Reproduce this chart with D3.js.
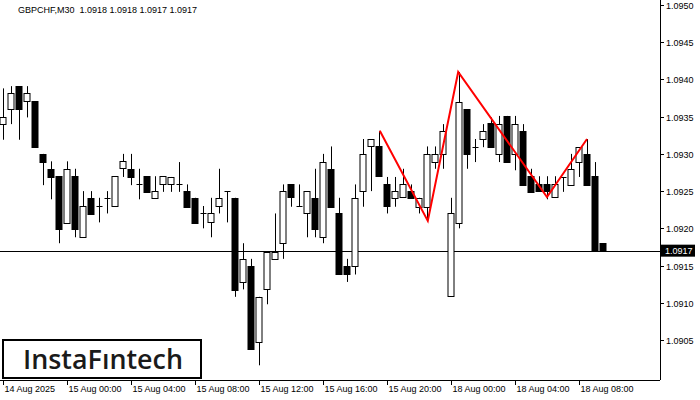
<!DOCTYPE html><html><head><meta charset="utf-8"><script src="https://cdn.jsdelivr.net/npm/d3@7"></script>
<style>body{margin:0;background:#fff}</style></head><body><svg id="c" width="700" height="400"></svg><script>
const opens=[1.09340,1.09360,1.09391,1.09371,1.09371,1.09300,1.09280,1.09270,1.09208,1.09270,1.09188,1.09241,1.09230,1.09241,1.09230,1.09280,1.09280,1.09259,1.09270,1.09241,1.09259,1.09259,1.09259,1.09250,1.09241,1.09220,1.09208,1.09230,1.09250,1.09241,1.09128,1.09149,1.09047,1.09118,1.09159,1.09180,1.09259,1.09230,1.09220,1.09241,1.09188,1.09280,1.09220,1.09149,1.09149,1.09250,1.09310,1.09310,1.09259,1.09241,1.09241,1.09250,1.09229,1.09229,1.09289,1.09300,1.09108,1.09208,1.09360,1.09309,1.09320,1.09341,1.09300,1.09351,1.09300,1.09331,1.09270,1.09259,1.09259,1.09241,1.09269,1.09259,1.09289,1.09300,1.09270,1.09180];
const highs=[1.09388,1.09391,1.09391,1.09391,1.09371,1.09300,1.09290,1.09270,1.09290,1.09280,1.09250,1.09250,1.09241,1.09250,1.09270,1.09300,1.09300,1.09280,1.09270,1.09270,1.09270,1.09269,1.09289,1.09259,1.09241,1.09230,1.09241,1.09280,1.09250,1.09241,1.09180,1.09159,1.09108,1.09168,1.09220,1.09259,1.09259,1.09259,1.09250,1.09280,1.09300,1.09310,1.09241,1.09159,1.09259,1.09320,1.09320,1.09331,1.09269,1.09269,1.09280,1.09259,1.09241,1.09310,1.09310,1.09340,1.09241,1.09410,1.09360,1.09320,1.09340,1.09349,1.09351,1.09351,1.09351,1.09340,1.09280,1.09270,1.09270,1.09270,1.09269,1.09300,1.09309,1.09320,1.09289,1.09180];
const lows=[1.09319,1.09340,1.09319,1.09349,1.09309,1.09258,1.09239,1.09180,1.09208,1.09188,1.09188,1.09220,1.09208,1.09220,1.09230,1.09269,1.09258,1.09239,1.09249,1.09241,1.09249,1.09249,1.09249,1.09229,1.09208,1.09200,1.09188,1.09220,1.09208,1.09108,1.09118,1.09038,1.09016,1.09098,1.09159,1.09159,1.09229,1.09230,1.09188,1.09188,1.09180,1.09229,1.09138,1.09128,1.09138,1.09229,1.09250,1.09270,1.09220,1.09229,1.09241,1.09241,1.09220,1.09211,1.09280,1.09280,1.09108,1.09200,1.09280,1.09289,1.09309,1.09309,1.09289,1.09289,1.09278,1.09258,1.09249,1.09249,1.09239,1.09241,1.09249,1.09259,1.09269,1.09259,1.09169,1.09169];
const closes=[1.09349,1.09382,1.09360,1.09382,1.09309,1.09289,1.09269,1.09199,1.09280,1.09199,1.09230,1.09220,1.09230,1.09241,1.09270,1.09290,1.09269,1.09259,1.09249,1.09250,1.09270,1.09269,1.09259,1.09229,1.09208,1.09220,1.09220,1.09241,1.09250,1.09118,1.09159,1.09038,1.09108,1.09168,1.09168,1.09250,1.09241,1.09230,1.09250,1.09200,1.09289,1.09229,1.09138,1.09138,1.09241,1.09300,1.09320,1.09270,1.09229,1.09250,1.09259,1.09241,1.09241,1.09300,1.09300,1.09331,1.09220,1.09370,1.09300,1.09309,1.09331,1.09309,1.09340,1.09289,1.09340,1.09258,1.09249,1.09249,1.09249,1.09259,1.09269,1.09280,1.09309,1.09259,1.09169,1.09169];
const patternIdx=[47.1,53.1,56.9,68,73];
const patternPrice=[1.09331,1.09210,1.09410,1.09242,1.09320];
const yTicks=[1.0905,1.0910,1.0915,1.0920,1.0925,1.0930,1.0935,1.0940,1.0945,1.0950];
const xTickIdx=[0,8,16,24,32,40,48,56,64,72];
const xTickLabels=["14 Aug 2025","15 Aug 00:00","15 Aug 04:00","15 Aug 08:00","15 Aug 12:00","15 Aug 16:00","15 Aug 20:00","18 Aug 00:00","18 Aug 04:00","18 Aug 08:00"];
const lastPrice=1.0917;
const title="GBPCHF,M30  1.0918 1.0918 1.0917 1.0917";

const svg=d3.select("#c"),R=660,B=380,F="'Liberation Sans',Arial,sans-serif";
const x=d3.scaleLinear().domain([0,1]).range([3,11]);
const y=d3.scaleLinear().domain([1.0905,1.0950]).range([340,5]);
svg.append("rect").attr("width",700).attr("height",400).attr("fill","#fff");
svg.append("line").attr("x1",0).attr("x2",R).attr("y1",Math.round(y(lastPrice))+.5).attr("y2",Math.round(y(lastPrice))+.5).attr("stroke","#000");
const g=svg.append("g");
opens.forEach((o,i)=>{
  const cx=Math.round(x(i))+.5,c=closes[i];
  g.append("line").attr("x1",cx).attr("x2",cx).attr("y1",y(highs[i])).attr("y2",y(lows[i])).attr("stroke","#000");
  const t=Math.min(y(o),y(c)),h=Math.abs(y(o)-y(c));
  if(h<1.5) g.append("line").attr("x1",cx-3).attr("x2",cx+3).attr("y1",Math.round(y(c))+.5).attr("y2",Math.round(y(c))+.5).attr("stroke","#000");
  else g.append("rect").attr("x",cx-3.5).attr("y",Math.round(t)+.5).attr("width",6).attr("height",Math.round(h)).attr("fill",c>=o?"#fff":"#000").attr("stroke","#000");
});
svg.append("path").attr("d",d3.line().x((d,i)=>x(d)).y((d,i)=>y(patternPrice[i]))(patternIdx)).attr("fill","none").attr("stroke","#f00").attr("stroke-width",2);
svg.append("line").attr("x1",R+.5).attr("x2",R+.5).attr("y1",0).attr("y2",B).attr("stroke","#000");
svg.append("line").attr("x1",0).attr("x2",R).attr("y1",B+.5).attr("y2",B+.5).attr("stroke","#000");
yTicks.forEach(v=>{const yy=Math.round(y(v))+.5;
  svg.append("line").attr("x1",R).attr("x2",R+4).attr("y1",yy).attr("y2",yy).attr("stroke","#000");
  svg.append("text").attr("x",666).attr("y",yy+3.5).attr("font-family",F).attr("font-size",9).text(v.toFixed(4));});
xTickIdx.forEach((k,i)=>{const xx=Math.round(x(k))+.5;
  svg.append("line").attr("x1",xx).attr("x2",xx).attr("y1",B).attr("y2",B+5).attr("stroke","#000");
  svg.append("text").attr("x",xx+1).attr("y",392).attr("font-family",F).attr("font-size",9).text(xTickLabels[i]);});
const ly=y(lastPrice);
svg.append("rect").attr("x",R+1).attr("y",ly-6).attr("width",34).attr("height",12).attr("fill","#000");
svg.append("text").attr("x",665).attr("y",ly+3.5).attr("fill","#fff").attr("font-family",F).attr("font-size",9).text(lastPrice.toFixed(4));
svg.append("text").attr("x",18).attr("y",13).attr("font-family",F).attr("font-size",9).attr("xml:space","preserve").style("white-space","pre").text(title);
svg.append("rect").attr("x",3).attr("y",340).attr("width",198).attr("height",38).attr("fill","#fff").attr("stroke","#000").attr("stroke-width",2);
svg.append("text").attr("x",23).attr("y",369).attr("font-family","'Open Sans',sans-serif").attr("font-weight",600).attr("font-size",27).attr("textLength",160).attr("lengthAdjust","spacingAndGlyphs").attr("fill","#1a1a1a").text("InstaFıntech");
</script></body></html>
